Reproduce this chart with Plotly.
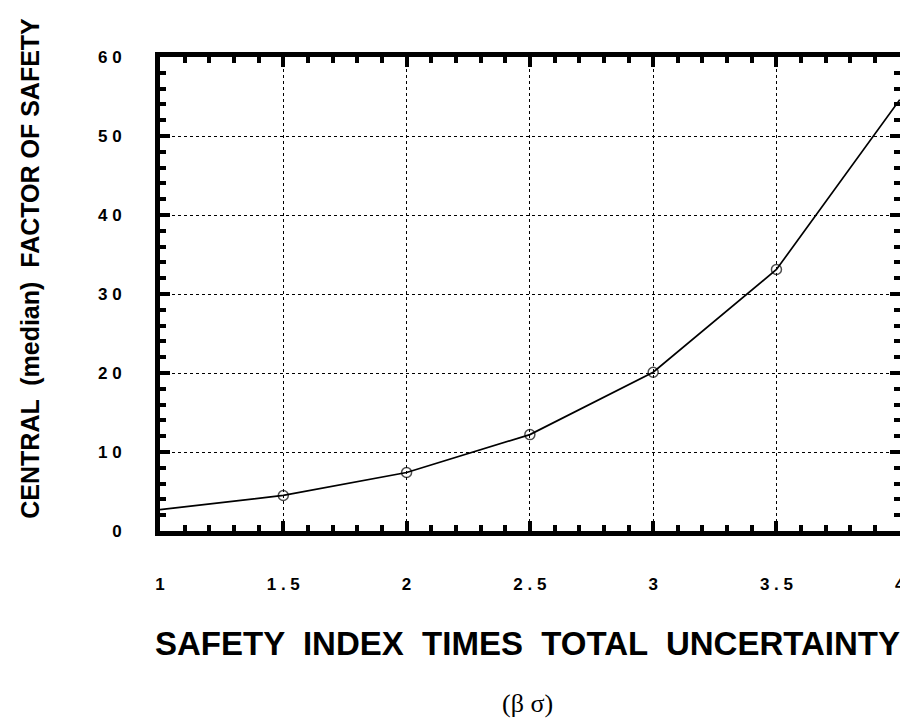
import plotly.graph_objects as go

# values
beta_sigma = [1.0, 1.5, 2.0, 2.5, 3.0, 3.5, 4.0]
safety_factor = [2.7, 4.5, 7.4, 12.2, 20.1, 33.1, 54.6]
marker_sizes = [0, 10, 10, 10, 10, 10, 0]

x_tickvals = [1, 1.5, 2, 2.5, 3, 3.5, 4]
x_ticktext = ["1", "1 . 5", "2", "2 . 5", "3", "3 . 5", "4"]
y_tickvals = [0, 10, 20, 30, 40, 50, 60]
y_ticktext = ["0", "1 0", "2 0", "3 0", "4 0", "5 0", "6 0"]

sans = "Liberation Sans, Arial, sans-serif"

fig = go.Figure()
fig.add_trace(go.Scatter(
    x=beta_sigma,
    y=safety_factor,
    mode="lines+markers",
    line=dict(color="black", width=1.7),
    marker=dict(symbol="circle-open", size=marker_sizes, color="black",
                line=dict(width=1.5, color="black")),
    showlegend=False,
))

tick_font = dict(family=sans, size=17, color="black", weight="bold")
axis_common = dict(
    showline=True, linewidth=5, linecolor="black", mirror="ticks",
    ticks="inside", ticklen=10, tickwidth=4, tickcolor="black",
    showgrid=True, gridcolor="black", gridwidth=1, griddash="dot",
    zeroline=False, tickfont=tick_font, automargin=False,
)

fig.update_xaxes(
    range=[1, 4.001], tickvals=x_tickvals, ticktext=x_ticktext,
    ticklabelstandoff=34,
    minor=dict(dtick=0.1, ticks="inside", ticklen=6, tickwidth=4,
               tickcolor="black", showgrid=False),
    **axis_common,
)
fig.update_yaxes(
    range=[0, 60], tickvals=y_tickvals, ticktext=y_ticktext,
    ticklabelstandoff=30,
    minor=dict(dtick=2, ticks="inside", ticklen=6, tickwidth=4,
               tickcolor="black", showgrid=False),
    **axis_common,
)

# the page body adds an 8px margin, so the figure is made 8px smaller
fig.update_layout(
    width=900, height=717,
    margin=dict(l=152, r=8, t=49, b=194),
    paper_bgcolor="white", plot_bgcolor="white",
    font=dict(family=sans, color="black"),
    annotations=[
        dict(text="<b>CENTRAL  (median)  FACTOR OF SAFETY</b>",
             xref="paper", yref="paper", x=-0.176, y=0.555, textangle=-90,
             xanchor="center", yanchor="middle",
             font=dict(size=25, family=sans),
             showarrow=False),
        dict(text="<b>SAFETY  INDEX  TIMES  TOTAL  UNCERTAINTY</b>",
             xref="paper", yref="paper", x=0.496, y=-0.238,
             xanchor="center", yanchor="middle",
             font=dict(size=33, family=sans),
             showarrow=False),
        dict(text="(β σ)",
             xref="paper", yref="paper", x=0.496, y=-0.363,
             xanchor="center", yanchor="middle",
             font=dict(size=26, family="Liberation Serif, Times New Roman, serif"),
             showarrow=False),
    ],
)

fig.write_html("out.html")
